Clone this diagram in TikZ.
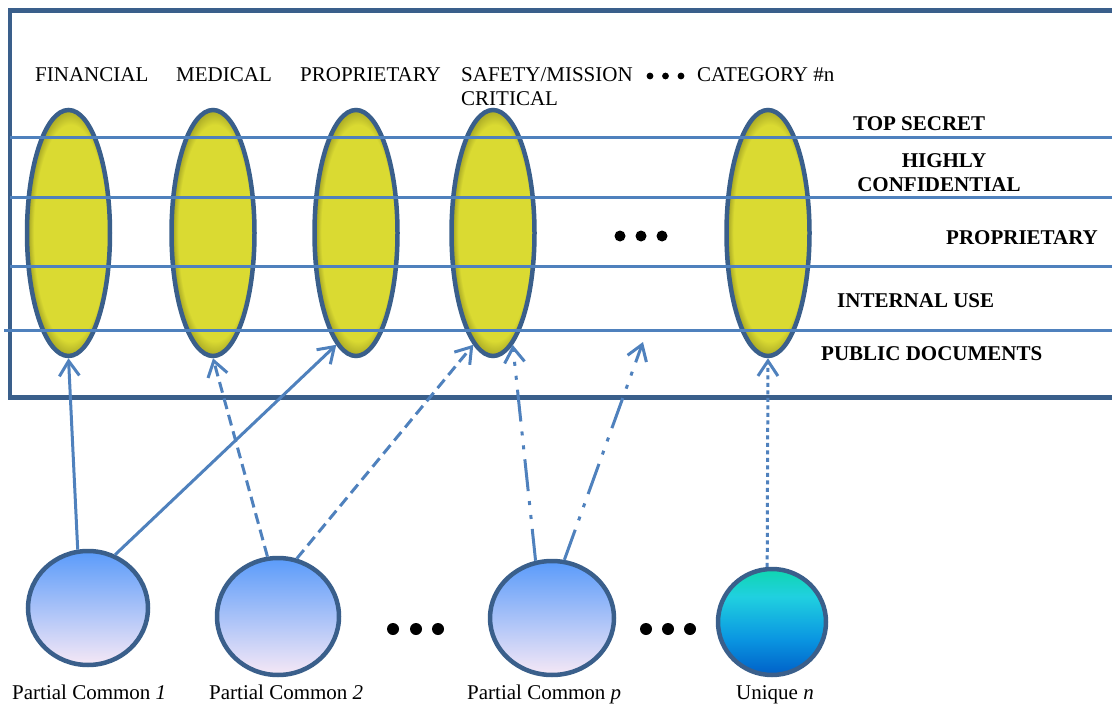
\documentclass[tikz,border=0pt]{standalone}
\usepackage{fontspec}
\setmainfont{Liberation Serif}
\usetikzlibrary{arrows.meta,shapes.geometric}
\definecolor{frameblue}{RGB}{58,95,139}
\definecolor{lineblue}{RGB}{79,129,189}
\definecolor{ylw}{RGB}{218,218,50}
\definecolor{ylwdark}{RGB}{170,170,38}
\definecolor{ctop}{RGB}{90,155,250}
\definecolor{cmid}{RGB}{128,186,248}
\definecolor{cbot}{RGB}{246,232,246}
\definecolor{uone}{RGB}{16,214,176}
\definecolor{utwo}{RGB}{32,208,224}
\definecolor{uthree}{RGB}{10,150,225}
\definecolor{ufour}{RGB}{0,96,200}
\pgfdeclareradialshading{ellshade}{\pgfpoint{2bp}{0bp}}{color(0bp)=(ylw); color(22bp)=(ylw); color(25bp)=(ylwdark); color(50bp)=(ylwdark)}
\pgfdeclareverticalshading{uniqshade}{100bp}{color(0bp)=(ufour); color(25bp)=(ufour); color(42bp)=(uthree); color(62bp)=(utwo); color(75bp)=(uone); color(100bp)=(uone)}
\tikzset{
  frame/.style={draw=frameblue, line width=4.5pt},
  level/.style={draw=lineblue, line width=3pt},
  catell/.style={ellipse, draw=frameblue, line width=4.5pt, minimum width=83pt, minimum height=246pt, inner sep=0pt, shade, shading=ellshade},
  partcirc/.style={ellipse, draw=frameblue, line width=4.5pt, inner sep=0pt, top color=ctop, middle color=cmid, bottom color=cbot},
  uniqcirc/.style={ellipse, draw=frameblue, line width=4.5pt, inner sep=0pt, shade, shading=uniqshade},
  conn/.style={draw=lineblue, line width=3pt, -{Straight Barb[length=15pt,width=20pt]}},
  dashconn/.style={conn, dash pattern=on 11pt off 6pt},
  ddconn/.style={conn, dash pattern=on 32pt off 10pt on 4pt off 10pt on 4pt off 10pt},
  dotconn/.style={conn, dash pattern=on 4pt off 3.5pt},
  lbl/.style={font=\fontsize{21}{24}\selectfont, inner sep=0pt, anchor=base west},
  clbl/.style={font=\fontsize{21}{24}\selectfont\bfseries, inner sep=0pt, anchor=base},
  blbl/.style={font=\fontsize{21}{24}\selectfont\bfseries, inner sep=0pt, anchor=base west},
  dot/.style={fill=black}
}
\begin{document}
\begin{tikzpicture}[x=1pt,y=-1pt]
\useasboundingbox (0,0) rectangle (1112,706);
% frame
\draw[frame] (1112,10.5) -- (10,10.5) -- (10,397.5) -- (1112,397.5);
% category ellipses
\node[catell] (fin) at (68.5,233) {};
\node[catell] (med) at (213,233) {};
\node[catell] (prop) at (356,233) {};
\node[catell] (saf) at (493,233) {};
\node[catell] (cat) at (768,233) {};
% level lines
\draw[level] (10,138) -- (1112,138);
\draw[level] (10,198) -- (1112,198);
\draw[level] (10,266) -- (1112,266);
\draw[level] (4,330) -- (1112,330);
% category labels
\node[lbl] (tfin) at (35,82) {FINANCIAL};
\node[lbl] (tmed) at (176,82) {MEDICAL};
\node[lbl] (tprop) at (300,82) {PROPRIETARY};
\node[lbl] (tsaf) at (461,82) {SAFETY/MISSION};
\node[lbl] (tcrit) at (461,106) {CRITICAL};
\node[lbl] (tcat) at (697,82) {CATEGORY \#n};
\fill[dot] (650,76) circle (3.4);
\fill[dot] (665.5,76) circle (3.4);
\fill[dot] (681,76) circle (3.4);
% level labels
\node[blbl] (ltop) at (853,131) {TOP SECRET};
\node[clbl] (lhigh) at (944,168) {HIGHLY};
\node[clbl] (lconf) at (939,192) {CONFIDENTIAL};
\node[blbl] (lprop) at (946,244) {PROPRIETARY};
\node[blbl] (lint) at (837,307) {INTERNAL USE};
\node[blbl] (lpub) at (821,360) {PUBLIC DOCUMENTS};
% middle dots
\fill[dot] (620,236) circle (5.5);
\fill[dot] (641,236) circle (5.5);
\fill[dot] (662,236) circle (5.5);
% sets
\node[partcirc, minimum width=120pt, minimum height=114pt] (c1) at (88,608) {};
\node[partcirc, minimum width=122pt, minimum height=117pt] (c2) at (278,616.5) {};
\node[partcirc, minimum width=124pt, minimum height=114pt] (cp) at (552,618) {};
\node[uniqcirc, minimum width=108pt, minimum height=106pt] (un) at (772,622) {};
\coordinate (free) at (643,342);
% connectors
\draw[conn] (c1.100) -- (fin.south);
\draw[conn] (c1.63) -- (prop.260);
\draw[dashconn] (c2.100) -- (med.south);
\draw[dashconn] (c2.72) -- (saf.260);
\draw[ddconn] (cp.106) -- (saf.280);
\draw[ddconn] (cp.78) -- (free);
\draw[dotconn] (un.95) -- (cat.south);
% bottom dots
\fill[dot] (393,629) circle (6);
\fill[dot] (416,629) circle (6);
\fill[dot] (438,629) circle (6);
\fill[dot] (646,629) circle (6);
\fill[dot] (668,629) circle (6);
\fill[dot] (690,629) circle (6);
% set labels
\node[lbl] (l1) at (12,699) {Partial Common \textit{1}};
\node[lbl] (l2) at (209,699) {Partial Common \textit{2}};
\node[lbl] (lp) at (467,699) {Partial Common \textit{p}};
\node[lbl] (ln) at (736,699) {Unique \textit{n}};
\end{tikzpicture}
\end{document}
